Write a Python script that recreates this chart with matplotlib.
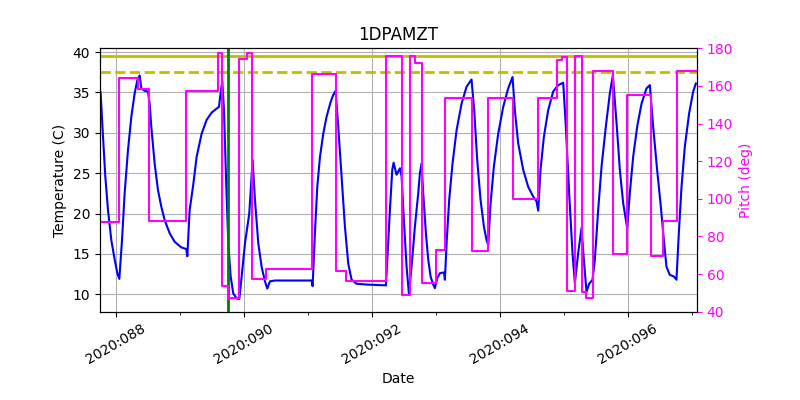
import datetime as dt
import matplotlib
matplotlib.use("Agg")
import matplotlib.pyplot as plt
import matplotlib.dates as mdates
import matplotlib.ticker as mticker

# Temperature trace (day-of-year 2020, degC)
temp_doy = [87.75, 87.760, 87.797, 87.833, 87.875, 87.927, 87.979, 88.021, 88.052, 88.094,
            88.135, 88.188, 88.240, 88.292, 88.333, 88.370, 88.396, 88.448, 88.500, 88.526,
            88.552, 88.604, 88.656, 88.708, 88.760, 88.839, 88.917, 89.021, 89.099, 89.115,
            89.151, 89.208, 89.260, 89.339, 89.417, 89.495, 89.573, 89.609, 89.635, 89.661,
            89.688, 89.719, 89.755, 89.792, 89.833, 89.885, 89.927, 89.964, 90.016, 90.083,
            90.109, 90.135, 90.172, 90.224, 90.276, 90.328, 90.365, 90.406, 90.484, 91.057,
            91.073, 91.109, 91.146, 91.188, 91.240, 91.292, 91.354, 91.396, 91.432, 91.474,
            91.526, 91.578, 91.630, 91.682, 91.760, 91.917, 92.219, 92.240, 92.281, 92.318,
            92.339, 92.385, 92.438, 92.464, 92.505, 92.542, 92.578, 92.620, 92.672, 92.724,
            92.750, 92.776, 92.802, 92.844, 92.880, 92.917, 92.958, 92.984, 93.021, 93.063,
            93.125, 93.141, 93.167, 93.208, 93.260, 93.323, 93.401, 93.479, 93.557, 93.599,
            93.646, 93.698, 93.750, 93.792, 93.818, 93.854, 93.906, 93.974, 94.052, 94.130,
            94.198, 94.234, 94.286, 94.365, 94.443, 94.521, 94.573, 94.599, 94.635, 94.688,
            94.755, 94.833, 94.911, 94.990, 95.031, 95.083, 95.135, 95.172, 95.224, 95.276,
            95.313, 95.354, 95.396, 95.448, 95.484, 95.536, 95.589, 95.656, 95.719, 95.766,
            95.828, 95.875, 95.927, 95.990, 96.031, 96.083, 96.146, 96.214, 96.292, 96.344,
            96.396, 96.458, 96.516, 96.563, 96.604, 96.656, 96.719, 96.760, 96.797, 96.839,
            96.891, 96.958, 97.021, 97.063]
temp_val = [35.3, 34.9, 29.5, 24.6, 20.4, 16.7, 14.3, 12.6, 11.9, 16.7,
            22.5, 27.9, 32.0, 34.9, 36.5, 37.1, 35.5, 35.2, 35.1, 33.6,
            30.75, 26.2, 22.9, 20.85, 19.2, 17.55, 16.5, 15.8, 15.6, 14.7,
            20.4, 23.6, 27.0, 29.9, 31.6, 32.5, 33.0, 33.2, 34.9, 36.4,
            32.8, 24.6, 16.3, 12.2, 10.1, 9.5, 9.4, 12.2, 16.3, 20.0,
            23.3, 26.6, 21.7, 16.3, 13.4, 11.6, 10.7, 11.6, 11.7, 11.7,
            11.0, 17.55, 23.3, 27.0, 29.9, 32.0, 33.8, 34.7, 35.2, 30.75,
            24.6, 18.4, 13.8, 11.8, 11.3, 11.2, 11.1, 14.3, 20.4, 25.4,
            26.3, 24.8, 25.6, 24.6, 18.4, 13.4, 10.1, 13.4, 18.4, 22.5,
            25.0, 26.2, 22.5, 17.55, 14.3, 12.2, 11.2, 10.75, 12.0, 12.6,
            12.7, 11.8, 16.3, 21.7, 26.2, 30.3, 33.6, 35.7, 36.6, 32.8,
            26.6, 21.7, 18.4, 16.7, 16.1, 21.2, 25.8, 29.9, 33.2, 35.5,
            36.9, 32.8, 28.7, 25.4, 23.3, 22.1, 21.5, 20.35, 25.4, 29.5,
            32.8, 35.1, 35.9, 36.2, 30.75, 22.5, 15.1, 11.4, 15.1, 18.2,
            14.25, 10.3, 11.3, 11.8, 14.25, 20.4, 25.8, 30.75, 34.9, 37.1,
            30.75, 25.4, 21.3, 18.2, 22.5, 27.0, 30.75, 33.6, 35.5, 35.9,
            30.75, 25.4, 20.85, 16.7, 13.4, 12.4, 12.2, 11.8, 17.55, 23.3,
            28.3, 32.4, 35.1, 36.1]

# Pitch steps (day-of-year 2020, deg)
pitch_doy = [87.75, 88.047, 88.348, 88.516, 89.089, 89.598, 89.661, 89.755, 89.927, 90.042,
             90.120, 90.344, 91.058, 91.433, 91.594, 92.219, 92.464, 92.594, 92.672, 92.777,
             92.995, 93.141, 93.558, 93.808, 94.208, 94.598, 94.886, 94.964, 95.042, 95.172,
             95.277, 95.344, 95.458, 95.770, 95.980, 96.355, 96.552, 96.761, 97.07]
pitch_val = [87.8, 164.05, 158.2, 88.4, 157.5, 177.7, 53.65, 47.4, 174.15, 177.3,
             57.2, 62.9, 166.3, 61.8, 56.5, 176.1, 48.9, 176.1, 172.3, 55.4,
             72.8, 153.4, 72.4, 153.4, 99.7, 153.4, 173.8, 175.5, 51.2, 176.1,
             50.6, 47.1, 167.9, 70.5, 155.2, 69.8, 88.4, 167.9, 167.9]

limit_solid = 39.5
limit_dashed = 37.5
event_doy = 89.755
major_doys = [88, 90, 92, 94, 96]
minor_doys = [88, 89, 90, 91, 92, 93, 94, 95, 96, 97]


def doy2date(d):
    return dt.datetime(2020, 1, 1) + dt.timedelta(days=d - 1)


tt = [doy2date(d) for d in temp_doy]
pt = [doy2date(d) for d in pitch_doy]

fig = plt.figure(figsize=(8, 4), dpi=100)
ax = fig.add_axes([0.125, 0.221, 0.746, 0.658])
ax.plot(tt, temp_val, color='b', lw=1.5)
ax.axhline(limit_solid, color='y', lw=2)
ax.axhline(limit_dashed, color='y', lw=2, ls='--')
ax.axvline(doy2date(event_doy), color='g', lw=2)
ax.set_ylim(7.85, 40.45)
ax.set_xlim(doy2date(87.75), doy2date(97.078))
ax.grid(True)
ax.set_ylabel('Temperature (C)')
ax.set_xlabel('Date')
ax.set_title('1DPAMZT')
ax.xaxis.set_major_locator(mticker.FixedLocator([mdates.date2num(doy2date(d)) for d in major_doys]))
ax.xaxis.set_minor_locator(mticker.FixedLocator([mdates.date2num(doy2date(d)) for d in minor_doys]))
ax.xaxis.set_major_formatter(mdates.DateFormatter('%Y:%j'))
ax.tick_params(axis='x', labelrotation=30)

ax2 = ax.twinx()
ax2.plot(pt, pitch_val, color='magenta', lw=1.5, drawstyle='steps-post')
ax2.set_ylim(40, 180)
ax2.set_ylabel('Pitch (deg)', color='magenta')
ax2.tick_params(axis='y', colors='magenta')
ax2.set_xlim(doy2date(87.75), doy2date(97.078))

fig.savefig('out.png')
